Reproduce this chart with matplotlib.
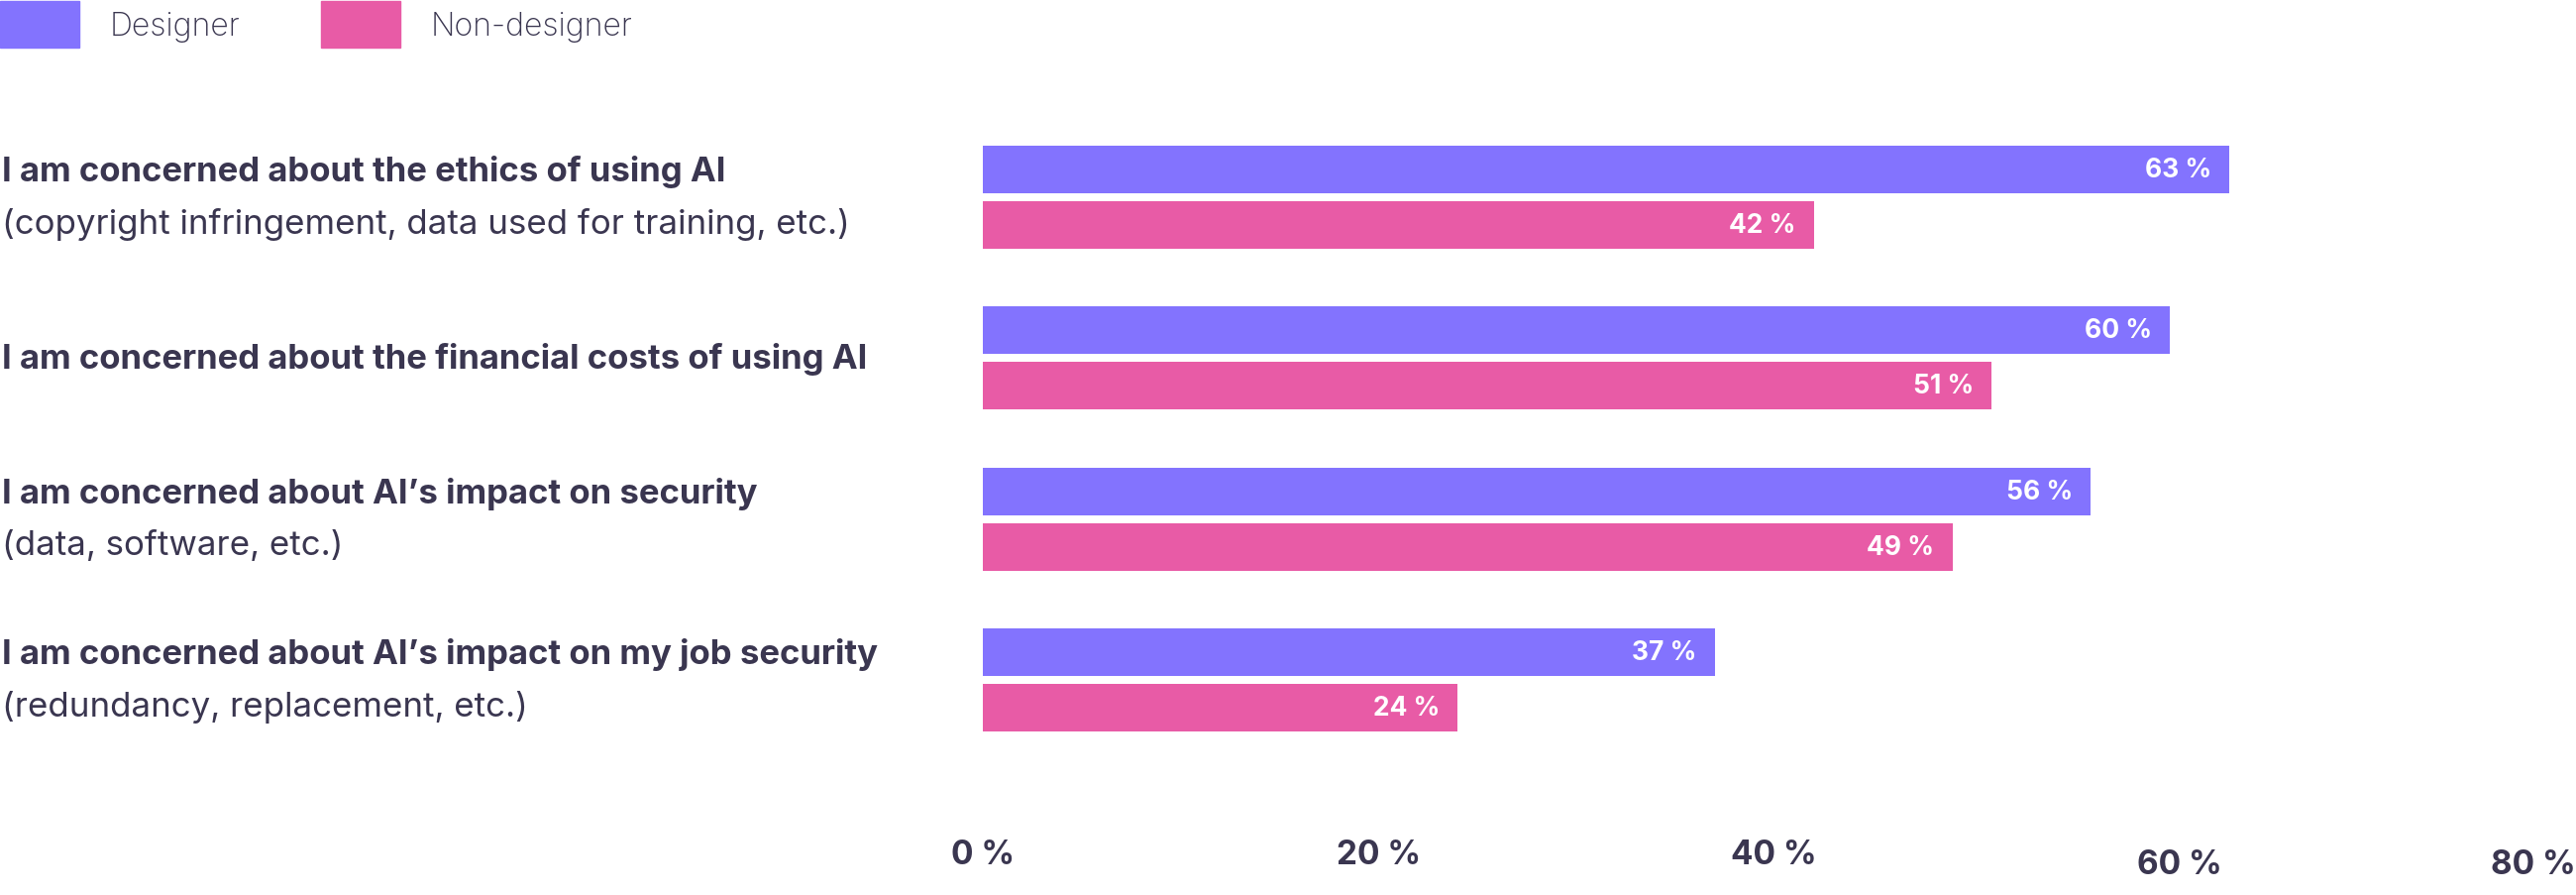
import matplotlib
matplotlib.use("Agg")
import matplotlib.pyplot as plt
import matplotlib.transforms as mtransforms
from matplotlib.patches import Patch

plt.rcParams['font.family'] = ['Inter', 'DejaVu Sans']

# ---- data ----
categories_main = [
    "I am concerned about the ethics of using AI",
    "I am concerned about the financial costs of using AI",
    "I am concerned about AI\u2019s impact on security",
    "I am concerned about AI\u2019s impact on my job security",
]
categories_sub = [
    "(copyright infringement, data used for training, etc.)",
    "",
    "(data, software, etc.)",
    "(redundancy, replacement, etc.)",
]
designer = [63, 60, 56, 37]
non_designer = [42, 51, 49, 24]
series_names = ["Designer", "Non-designer"]
tick_values = [0, 20, 40, 60, 80]
tick_labels = ["0 %", "20 %", "40 %", "60 %", "80 %"]

C_DES = "#8373FE"
C_NON = "#E85BA6"
C_TXT = "#3A3650"

W, H, DPI = 2600, 904, 100
fig = plt.figure(figsize=(W / DPI, H / DPI), dpi=DPI)
ax = fig.add_axes([992 / W, 1 - 768.2 / H, 1597.6 / W, 649.3 / H])

n = len(designer)
ys = list(range(n))
off = 0.1725
bh = 0.2957
b1 = ax.barh([y - off for y in ys], designer, height=bh, color=C_DES, label=series_names[0])
b2 = ax.barh([y + off for y in ys], non_designer, height=bh, color=C_NON, label=series_names[1])

for cont, vals in ((b1, designer), (b2, non_designer)):
    anns = ax.bar_label(cont, labels=[f"{v} %" for v in vals], padding=-13,
                        color="white", fontsize=19, fontweight="bold")
    for a in anns:
        a.set_ha("right")
        a.set_va("center")

ax.set_xlim(0, 80)
ax.set_ylim(n - 0.5, -0.5)
ax.set_yticks([])
for s in ax.spines.values():
    s.set_visible(False)

ax.set_xticks(tick_values)
ax.set_xticklabels(tick_labels, fontsize=24, fontweight="bold", color=C_TXT)
ax.tick_params(axis="x", length=0, pad=57)
lbls = ax.get_xticklabels()
lbls[3].set_transform(lbls[3].get_transform() + mtransforms.ScaledTranslation(10 / DPI, -10 / DPI, fig.dpi_scale_trans))
lbls[4].set_transform(lbls[4].get_transform() + mtransforms.ScaledTranslation(-33 / DPI, -10 / DPI, fig.dpi_scale_trans))

# category labels
tr = mtransforms.blended_transform_factory(fig.transFigure, ax.transData)
dy = 26.5 / 162.33
FS_MAIN = 25.0
FS_SUB = 25.1
for i, (m, s) in enumerate(zip(categories_main, categories_sub)):
    if s:
        ax.text(2 / W, i - dy, m, transform=tr, ha="left", va="center",
                fontsize=FS_MAIN, fontweight="bold", color=C_TXT)
        ax.text(2 / W, i + dy, s, transform=tr, ha="left", va="center",
                fontsize=FS_SUB, fontweight="normal", color=C_TXT)
    else:
        ax.text(2 / W, i, m, transform=tr, ha="left", va="center",
                fontsize=FS_MAIN, fontweight="bold", color=C_TXT)

# legend
fs_leg = 23
fs_px = fs_leg * DPI / 72
hh = (47 / fs_px - 0.245) / (1 - 0.35)
fig.legend(handles=[Patch(color=C_DES, label=series_names[0]),
                    Patch(color=C_NON, label=series_names[1])],
           loc="upper left", bbox_to_anchor=(0, 1 - 2 / H), ncol=2, frameon=False,
           fontsize=fs_leg, borderpad=0, borderaxespad=0,
           handlelength=80 / fs_px, handleheight=hh,
           handletextpad=31 / fs_px, columnspacing=81 / fs_px,
           labelcolor=C_TXT, prop={"weight": "light", "size": fs_leg})

fig.savefig("out.png", dpi=DPI)
